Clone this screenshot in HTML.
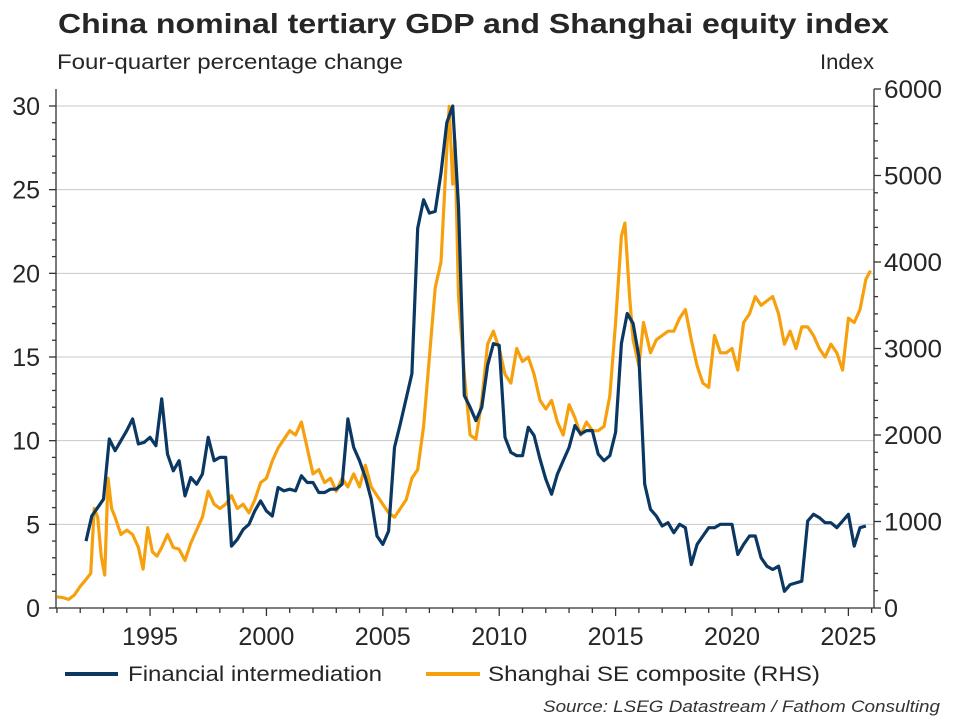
<!DOCTYPE html>
<html><head><meta charset="utf-8"><style>
html,body{margin:0;padding:0;background:#fff;}
svg{display:block;font-family:"Liberation Sans",Arial,sans-serif;}
</style></head><body>
<svg id="chart" width="960" height="720" viewBox="0 0 960 720">
<text x="58" y="33" font-size="28" font-weight="bold" fill="#262626" textLength="831" lengthAdjust="spacingAndGlyphs">China nominal tertiary GDP and Shanghai equity index</text>
<text x="57" y="69" font-size="21" fill="#262626" textLength="346" lengthAdjust="spacingAndGlyphs">Four-quarter percentage change</text>
<text x="874" y="69" font-size="21" fill="#262626" text-anchor="end" textLength="54" lengthAdjust="spacingAndGlyphs">Index</text>
<g id="grid"></g>
<g id="axes"></g>
<g id="series"></g>
<g>
<line x1="65" y1="674" x2="118" y2="674" stroke="#0b3763" stroke-width="4"/>
<text x="128" y="681" font-size="21" fill="#262626" textLength="254" lengthAdjust="spacingAndGlyphs">Financial intermediation</text>
<line x1="426" y1="674" x2="480" y2="674" stroke="#f7a00e" stroke-width="4"/>
<text x="488" y="681" font-size="21" fill="#262626" textLength="332" lengthAdjust="spacingAndGlyphs">Shanghai SE composite (RHS)</text>
</g>
<text x="940" y="712" font-size="17" font-style="italic" fill="#333" text-anchor="end" textLength="397" lengthAdjust="spacingAndGlyphs">Source: LSEG Datastream / Fathom Consulting</text>
</svg>
<script>
const xTicks = [1995, 2000, 2005, 2010, 2015, 2020, 2025];
const leftTicks = [0, 5, 10, 15, 20, 25, 30];
const rightTicks = [0, 1000, 2000, 3000, 4000, 5000, 6000];
const finYears = [1992.25,1992.5,1992.75,1993,1993.25,1993.5,1993.75,1994,1994.25,1994.5,1994.75,1995,1995.25,1995.5,1995.75,1996,1996.25,1996.5,1996.75,1997,1997.25,1997.5,1997.75,1998,1998.25,1998.5,1998.75,1999,1999.25,1999.5,1999.75,2000,2000.25,2000.5,2000.75,2001,2001.25,2001.5,2001.75,2002,2002.25,2002.5,2002.75,2003,2003.25,2003.5,2003.75,2004,2004.25,2004.5,2004.75,2005,2005.25,2005.5,2005.75,2006,2006.25,2006.5,2006.75,2007,2007.25,2007.5,2007.75,2008,2008.25,2008.5,2008.75,2009,2009.25,2009.5,2009.75,2010,2010.25,2010.5,2010.75,2011,2011.25,2011.5,2011.75,2012,2012.25,2012.5,2012.75,2013,2013.25,2013.5,2013.75,2014,2014.25,2014.5,2014.75,2015,2015.25,2015.5,2015.75,2016,2016.25,2016.5,2016.75,2017,2017.25,2017.5,2017.75,2018,2018.25,2018.5,2018.75,2019,2019.25,2019.5,2019.75,2020,2020.25,2020.5,2020.75,2021,2021.25,2021.5,2021.75,2022,2022.25,2022.5,2022.75,2023,2023.25,2023.5,2023.75,2024,2024.25,2024.5,2024.75,2025,2025.25,2025.5,2025.75];
const finValues = [4.0,5.5,6.0,6.5,10.1,9.4,10.0,10.6,11.3,9.8,9.9,10.2,9.7,12.5,9.2,8.2,8.8,6.7,7.8,7.4,8.0,10.2,8.8,9.0,9.0,3.7,4.1,4.7,5.0,5.8,6.4,5.8,5.5,7.2,7.0,7.1,7.0,7.9,7.5,7.5,6.9,6.9,7.1,7.1,7.4,11.3,9.6,8.8,7.8,6.5,4.3,3.8,4.6,9.6,11.0,12.5,14.0,22.7,24.4,23.6,23.7,26.0,29.0,30.0,24.0,12.7,12.0,11.2,12.0,14.5,15.8,15.7,10.2,9.3,9.1,9.1,10.8,10.3,8.9,7.7,6.8,8.0,8.8,9.6,10.9,10.4,10.6,10.6,9.2,8.8,9.1,10.5,15.8,17.6,17.0,15.0,7.4,5.9,5.5,4.9,5.1,4.5,5.0,4.8,2.6,3.8,4.3,4.8,4.8,5.0,5.0,5.0,3.2,3.8,4.3,4.3,3.0,2.5,2.3,2.5,1.0,1.4,1.5,1.6,5.2,5.6,5.4,5.1,5.1,4.8,5.2,5.6,3.7,4.8,4.9];
const shYears = [1991,1991.25,1991.5,1991.75,1992,1992.25,1992.45,1992.6,1992.75,1992.9,1993.05,1993.2,1993.35,1993.5,1993.75,1994,1994.25,1994.5,1994.7,1994.9,1995.1,1995.3,1995.5,1995.75,1996,1996.25,1996.5,1996.75,1997,1997.25,1997.5,1997.75,1998,1998.25,1998.5,1998.75,1999,1999.25,1999.5,1999.75,2000,2000.25,2000.5,2000.75,2001,2001.25,2001.5,2001.75,2002,2002.25,2002.5,2002.75,2003,2003.25,2003.5,2003.75,2004,2004.25,2004.5,2004.75,2005,2005.25,2005.5,2005.75,2006,2006.25,2006.5,2006.75,2007,2007.25,2007.5,2007.75,2007.85,2008,2008.1,2008.25,2008.5,2008.75,2009,2009.25,2009.5,2009.75,2010,2010.25,2010.5,2010.75,2011,2011.25,2011.5,2011.75,2012,2012.25,2012.5,2012.75,2013,2013.25,2013.5,2013.75,2014,2014.25,2014.5,2014.75,2015,2015.25,2015.4,2015.6,2015.75,2016,2016.2,2016.5,2016.75,2017,2017.25,2017.5,2017.75,2018,2018.25,2018.5,2018.75,2019,2019.25,2019.5,2019.75,2020,2020.25,2020.5,2020.75,2021,2021.25,2021.5,2021.75,2022,2022.25,2022.5,2022.75,2023,2023.25,2023.5,2023.75,2024,2024.25,2024.5,2024.75,2025,2025.25,2025.5,2025.75,2025.95];
const shValues = [130,120,100,150,250,330,400,1150,1050,600,380,1500,1150,1050,850,900,850,700,450,930,650,600,700,850,700,680,550,750,900,1050,1350,1200,1150,1200,1300,1150,1200,1100,1250,1450,1500,1700,1850,1950,2050,2000,2150,1850,1550,1600,1450,1500,1350,1500,1400,1550,1400,1650,1400,1300,1200,1100,1050,1150,1250,1500,1600,2100,2900,3700,4000,5300,5800,4900,5400,3600,2700,2000,1950,2400,3050,3200,3000,2700,2600,3000,2850,2900,2700,2400,2300,2400,2150,2000,2350,2200,2000,2150,2050,2050,2100,2450,3300,4300,4450,3600,3100,2800,3300,2950,3100,3150,3200,3200,3350,3450,3100,2800,2600,2550,3150,2950,2950,3000,2750,3300,3400,3600,3500,3550,3600,3400,3050,3200,3000,3250,3250,3150,3000,2900,3050,2950,2750,3350,3300,3450,3800,3900];

const NS = 'http://www.w3.org/2000/svg';
const X0 = 56, X1 = 874, Y0 = 608;
const xMin = 1990.96, xMax = 2026.1;
function xs(t){ return X0 + (t - xMin) / (xMax - xMin) * (X1 - X0); }
function yl(v){ return Y0 - v / 30 * (Y0 - 106); }
function yr(v){ return Y0 - v / 6000 * (Y0 - 89); }
function mk(tag, attrs, parent){ const e = document.createElementNS(NS, tag); for (const k in attrs) e.setAttribute(k, attrs[k]); parent.appendChild(e); return e; }

const grid = document.getElementById('grid');
leftTicks.forEach(v => {
  if (v === 0) return;
  const l = mk('line', {x1: X0, x2: X1, y1: yl(v), y2: yl(v), stroke: '#c8c8c8', 'stroke-width': 1}, grid);
  
  
});

const axes = document.getElementById('axes');
const ax = {stroke: '#333', 'stroke-width': 1.3};
let a = mk('line', Object.assign({x1: X0, x2: X0, y1: 89, y2: Y0}, ax), axes);
 
a = mk('line', Object.assign({x1: X1, x2: X1, y1: 89, y2: Y0}, ax), axes);
 
a = mk('line', Object.assign({x1: X0, x2: X1, y1: Y0, y2: Y0}, ax), axes);
 

for (let yr_ = 1991; yr_ <= 2026; yr_++) {
  const major = yr_ % 5 === 0;
  const t = mk('line', Object.assign({x1: xs(yr_), x2: xs(yr_), y1: Y0, y2: Y0 + (major ? 8 : 5)}, ax), axes);
   
}
xTicks.forEach(v => {
  const t = mk('text', {x: xs(v), y: Y0 + 37, 'font-size': 25, fill: '#262626', 'text-anchor': 'middle', textLength: 56, lengthAdjust: 'spacingAndGlyphs'}, axes);
  t.textContent = v;
   
});
for (let v = 0; v <= 30; v++) {
  const major = v % 5 === 0;
  const t = mk('line', Object.assign({x1: X0 - (major ? 7 : 4), x2: X0, y1: yl(v), y2: yl(v)}, ax), axes);
   
}
leftTicks.forEach(v => {
  const t = mk('text', {x: 40, y: yl(v) + 9, 'font-size': 25, fill: '#262626', 'text-anchor': 'end'}, axes);
  t.textContent = v;
   
});
for (let v = 0; v <= 6000; v += 200) {
  const major = v % 1000 === 0;
  const t = mk('line', Object.assign({x1: X1, x2: X1 + (major ? 7 : 4), y1: yr(v), y2: yr(v)}, ax), axes);
   
}
rightTicks.forEach(v => {
  const t = mk('text', {x: 884, y: yr(v) + 9, 'font-size': 25, fill: '#262626', 'text-anchor': 'start', textLength: v === 0 ? 14 : 58, lengthAdjust: 'spacingAndGlyphs'}, axes);
  t.textContent = v;
   
});

const series = document.getElementById('series');
let d = shYears.map((t, i) => (i ? 'L' : 'M') + xs(t).toFixed(1) + ',' + yr(shValues[i]).toFixed(1)).join('');
let p = mk('path', {d: d, fill: 'none', stroke: '#f7a00e', 'stroke-width': 3.2, 'stroke-linejoin': 'round'}, series);


d = finYears.map((t, i) => (i ? 'L' : 'M') + xs(t).toFixed(1) + ',' + yl(finValues[i]).toFixed(1)).join('');
p = mk('path', {d: d, fill: 'none', stroke: '#0b3763', 'stroke-width': 3.2, 'stroke-linejoin': 'round'}, series);


</script>
</body></html>
